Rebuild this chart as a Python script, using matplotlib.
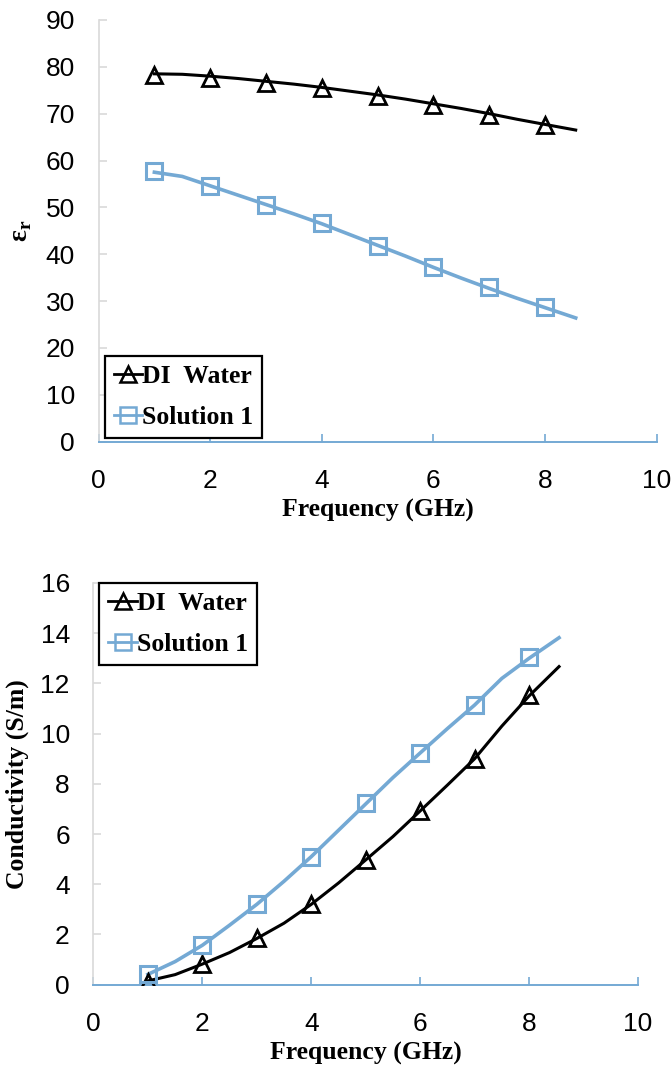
import matplotlib
matplotlib.use('Agg')
import matplotlib.pyplot as plt

plt.rcParams['mathtext.fontset'] = 'custom'
plt.rcParams['mathtext.rm'] = 'Liberation Serif'
plt.rcParams['mathtext.bf'] = 'Liberation Serif:bold'

# marker points (integer GHz)
f_pts = [1, 2, 3, 4, 5, 6, 7, 8]
eps_di_pts = [78.2, 77.6, 76.6, 75.4, 73.7, 71.8, 69.8, 67.5]
eps_s1_pts = [57.8, 54.6, 50.6, 46.6, 41.7, 37.2, 32.9, 28.7]
sig_di_pts = [0.1, 0.82, 1.84, 3.2, 4.97, 6.92, 9.0, 11.55]
sig_s1_pts = [0.41, 1.57, 3.2, 5.1, 7.22, 9.23, 11.14, 13.05]

f_line = [1, 1.5, 2, 2.5, 3, 3.5, 4, 4.5, 5, 5.5, 6, 6.5, 7, 7.5, 8, 8.55]
eps_di_line = [78.5, 78.4, 78.0, 77.5, 76.9, 76.3, 75.6, 74.8, 74.0, 73.1, 72.1, 71.1, 70.0, 68.8, 67.7, 66.5]
eps_s1_line = [57.5, 56.6, 54.6, 52.6, 50.6, 48.6, 46.5, 44.2, 41.9, 39.6, 37.2, 34.9, 32.7, 30.6, 28.6, 26.4]
sig_di_line = [0.15, 0.4, 0.82, 1.28, 1.84, 2.45, 3.2, 4.05, 4.97, 5.9, 6.92, 7.95, 9.0, 10.3, 11.5, 12.67]
sig_s1_line = [0.41, 0.92, 1.57, 2.37, 3.2, 4.12, 5.1, 6.15, 7.2, 8.25, 9.23, 10.2, 11.14, 12.2, 13.0, 13.82]

black = '#000000'
blue = '#74a9d4'
serif = 'Liberation Serif'
sans = 'Liberation Sans'

fig = plt.figure(figsize=(6.72, 10.66), dpi=100)
ax1 = fig.add_axes([0.1467, 0.5857, 0.8304, 0.3956])
ax2 = fig.add_axes([0.1391, 0.0763, 0.8103, 0.3768])


def draw(ax, di_line, s1_line, di_pts, s1_pts, ylim, yticks, ylabel, ylabelsize, legloc, bbox):
    ax.plot(f_line, di_line, color=black, lw=2.2, zorder=3)
    ax.plot(f_line, s1_line, color=blue, lw=2.6, zorder=3)
    ax.plot(f_pts, di_pts, ls='none', marker='^', ms=12, mfc='none', mec=black, mew=2.0, zorder=4)
    ax.plot(f_pts, s1_pts, ls='none', marker='s', ms=12, mfc='none', mec=blue, mew=2.2, zorder=4)
    h1, = ax.plot([], [], color=black, lw=2.0, marker='^', ms=11, mfc='none', mec=black, mew=1.8)
    h2, = ax.plot([], [], color=blue, lw=2.0, marker='s', ms=11, mfc='none', mec=blue, mew=1.8)
    leg = ax.legend([h1, h2], ['DI  Water', 'Solution 1'], loc=legloc, bbox_to_anchor=bbox,
                    prop={'family': serif, 'weight': 'bold', 'size': 18.5},
                    fancybox=False, frameon=True, edgecolor=black, framealpha=1,
                    handlelength=1.1, handletextpad=0.0, borderpad=0.35, labelspacing=0.7,
                    borderaxespad=0)
    leg.get_frame().set_linewidth(1.6)
    ax.set_xlim(0, 10)
    ax.set_ylim(*ylim)
    ax.set_xticks([0, 2, 4, 6, 8, 10])
    ax.set_yticks(yticks)
    for s in ['top', 'right']:
        ax.spines[s].set_visible(False)
    ax.spines['left'].set_color('#d9d9d9')
    ax.spines['left'].set_linewidth(1.2)
    ax.spines['bottom'].set_color(blue)
    ax.spines['bottom'].set_linewidth(1.4)
    ax.tick_params(axis='y', color='#d9d9d9', length=6, width=1.2, direction='in', labelsize=19, pad=17)
    ax.tick_params(axis='x', color=blue, length=6, width=1.2, direction='in', labelsize=19, pad=20)
    for lab in ax.get_xticklabels() + ax.get_yticklabels():
        lab.set_family(sans)
    ax.set_xlabel('Frequency (GHz)', family=serif, weight='bold', fontsize=18.5, labelpad=4)
    ax.set_ylabel(ylabel, family=serif, weight='bold', fontsize=ylabelsize, labelpad=8)


draw(ax1, eps_di_line, eps_s1_line, eps_di_pts, eps_s1_pts, (0, 90), range(0, 91, 10),
     r'$\mathbf{\varepsilon}_{\mathbf{r}}$', 20, 'lower left', (0.0115, 0.009))
draw(ax2, sig_di_line, sig_s1_line, sig_di_pts, sig_s1_pts, (0, 16), range(0, 17, 2),
     'Conductivity (S/m)', 18.5, 'upper left', (0.011, 1.0))

fig.savefig('out.png', dpi=100)
